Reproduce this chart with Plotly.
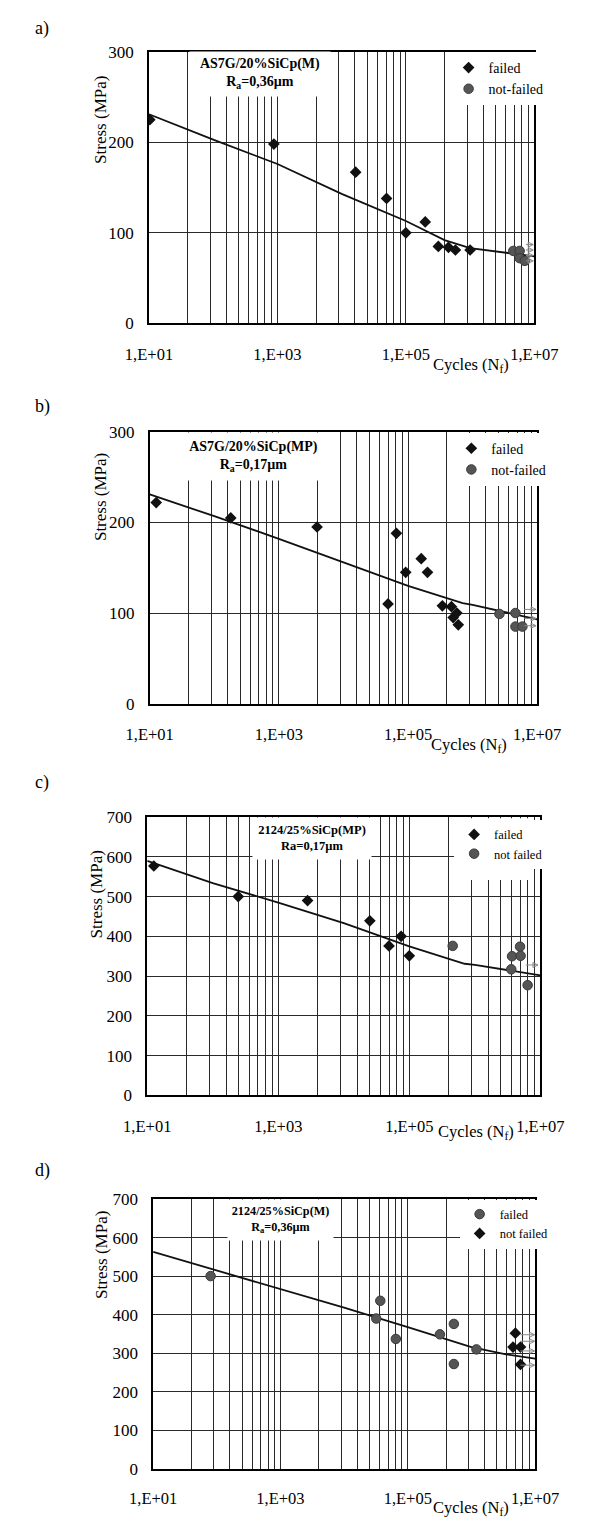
import numpy as np
import plotly.graph_objects as go

W, H = 593, 1527
SERIF = "Liberation Serif, Times New Roman, serif"
GRID = "#2a2a2a"

# ---------------- data ----------------
# a) AS7G/20%SiCp(M), Ra=0,36um
a_failed_N = [10.3, 880, 1.65e4, 5.0e4, 1.0e5, 2.0e5, 3.2e5, 4.6e5, 5.9e5, 1.0e6]
a_failed_S = [225, 198, 167, 138, 100, 112, 85, 84, 81, 81]
a_runout_N = [4.7e6, 5.9e6, 5.9e6, 7.1e6]
a_runout_S = [80, 80, 72, 69]
a_fit_N = [10, 100, 1e3, 1e4, 1e5, 4e5, 1e6, 1e7]
a_fit_S = [231, 203, 176, 143, 113, 92, 83, 74]
a_arrow_S = [87, 81, 75, 69]
a_arrow_from_N = [7.4e6, 7.4e6, 7.4e6, 7.4e6]
a_arrow_to_N = [9.6e6, 9.6e6, 9.6e6, 9.6e6]

# b) AS7G/20%SiCp(MP), Ra=0,17um
b_failed_N = [12.6, 180, 3.9e3, 4.9e4, 6.6e4, 9.2e4, 1.6e5, 2.0e5, 3.4e5, 4.7e5, 5.0e5, 5.7e5, 6.0e5]
b_failed_S = [222, 205, 195, 110, 188, 145, 160, 145, 108, 107, 95, 100, 87]
b_runout_N = [2.6e6, 4.6e6, 4.6e6, 5.9e6]
b_runout_S = [99, 100, 85, 85]
b_fit_N = [10, 100, 1e3, 1e4, 1e5, 7e5, 1e6, 1e7]
b_fit_S = [231, 207, 182, 156, 130, 111, 109, 93]
b_arrow_S = [104, 94, 86]
b_arrow_from_N = [6.3e6, 6.3e6, 6.3e6]
b_arrow_to_N = [9.6e6, 9.6e6, 9.6e6]

# c) 2124/25%SiCp(MP), Ra=0,17um
c_failed_N = [12.6, 245, 2.8e3, 2.5e4, 4.9e4, 7.5e4, 1.0e5]
c_failed_S = [577, 500, 490, 439, 376, 400, 351]
c_runout_N = [4.6e5, 3.7e6, 3.6e6, 4.9e6, 5.0e6, 6.4e6]
c_runout_S = [376, 350, 317, 374, 351, 277]
c_fit_N = [10, 100, 1e3, 1e4, 1e5, 7e5, 1e6, 1e7]
c_fit_S = [590, 534, 485, 433, 375, 331, 328, 302]
c_arrow_S = [328]
c_arrow_from_N = [6.0e6]
c_arrow_to_N = [9.2e6]

# d) 2124/25%SiCp(M), Ra=0,36um  (here circles = failed, diamonds = not failed)
d_failed_N = [80, 3.2e4, 3.7e4, 6.5e4, 3.2e5, 5.3e5, 5.3e5, 1.2e6]
d_failed_S = [500, 390, 436, 337, 349, 376, 272, 310]
d_runout_N = [4.9e6, 4.5e6, 5.9e6, 5.9e6]
d_runout_S = [352, 316, 316, 271]
d_fit_N = [10, 100, 1e3, 1e4, 1e5, 1e6, 3.5e6, 1e7]
d_fit_S = [563, 515, 467, 418, 368, 316, 297, 286]
d_arrow_S = [348, 331, 306, 269]
d_arrow_from_N = [5.9e6, 5.9e6, 5.9e6, 5.9e6]
d_arrow_to_N = [9.8e6, 9.8e6, 9.8e6, 9.8e6]

# axis ticks
MAJOR_N = [1e1, 1e3, 1e5, 1e7]
MAJOR_LBL = ["1,E+01", "1,E+03", "1,E+05", "1,E+07"]
MINOR_MULT = [4, 9, 16, 25, 36, 49, 64, 81]
MINOR_N = [m * k for m in MAJOR_N[:-1] for k in MINOR_MULT]


def fx(px):
    return px / W


def fy(py):
    return 1 - py / H


panels = [
    dict(key="a", s="", leg="legend",
         box=(136, 555.3, 43.3, 318.3), ymax=300, ystep=100,
         fN=a_failed_N, fS=a_failed_S, rN=a_runout_N, rS=a_runout_S,
         fitN=a_fit_N, fitS=a_fit_S,
         arS=a_arrow_S, ar0=a_arrow_from_N, ar1=a_arrow_to_N,
         names=("failed", "not-failed"), sym=("diamond", "circle"),
         title="<b>AS7G/20%SiCp(M)</b><br><b>R<sub>a</sub>=0,36µm</b>",
         tbox=(187, 327, 44.5, 88), tfont=14,
         legxy=(462, 43.5), legfont=14, legpad=None,
         label_y=20, ytitle=(83, 112), cyc=(486, 360), xlab_off=15),
    dict(key="b", s="2", leg="legend2",
         box=(136.8, 558.4, 428.3, 703.3), ymax=300, ystep=100,
         fN=b_failed_N, fS=b_failed_S, rN=b_runout_N, rS=b_runout_S,
         fitN=b_fit_N, fitS=b_fit_S,
         arS=b_arrow_S, ar0=b_arrow_from_N, ar1=b_arrow_to_N,
         names=("failed", "not-failed"), sym=("diamond", "circle"),
         title="<b>AS7G/20%SiCp(MP)</b><br><b>R<sub>a</sub>=0,17µm</b>",
         tbox=(182, 317, 429.5, 476), tfont=14,
         legxy=(465, 429), legfont=14, legpad=None,
         label_y=403, ytitle=(84, 494), cyc=(484, 745), xlab_off=15),
    dict(key="c", s="3", leg="legend3",
         box=(134.1, 561.8, 818.3, 1100), ymax=700, ystep=100,
         fN=c_failed_N, fS=c_failed_S, rN=c_runout_N, rS=c_runout_S,
         fitN=c_fit_N, fitS=c_fit_S,
         arS=c_arrow_S, ar0=c_arrow_from_N, ar1=c_arrow_to_N,
         names=("failed", "not failed"), sym=("diamond", "circle"),
         title="<b>2124/25%SiCp(MP)</b><br><b>Ra=0,17µm</b>",
         tbox=(254, 372, 819.5, 860), tfont=12.5,
         legxy=(468, 821), legfont=12.5, legpad=(478, 551.5, 819.5, 882),
         label_y=783, ytitle=(79, 897), cyc=(492, 1137), xlab_off=15),
    dict(key="d", s="4", leg="legend4",
         box=(140.5, 556.1, 1205, 1478.3), ymax=700, ystep=100,
         fN=d_failed_N, fS=d_failed_S, rN=d_runout_N, rS=d_runout_S,
         fitN=d_fit_N, fitS=d_fit_S,
         arS=d_arrow_S, ar0=d_arrow_from_N, ar1=d_arrow_to_N,
         names=("failed", "not failed"), sym=("circle", "diamond"),
         title="<b>2124/25%SiCp(M)</b><br><b>R<sub>a</sub>=0,36µm</b>",
         tbox=(227, 332, 1206.5, 1246), tfont=12.2,
         legxy=(474, 1205.5), legfont=12.5, legpad=(478, 554.5, 1206.5, 1247),
         label_y=1176, ytitle=(84.5, 1262), cyc=(486, 1518), xlab_off=13),
]

MARK = {
    "diamond": dict(symbol="diamond", size=9, color="#111111",
                    line=dict(width=0)),
    "circle": dict(symbol="circle", size=9.5, color="#555555",
                   line=dict(width=1, color="#3a3a3a")),
}

fig = go.Figure()
annotations = []
shapes = []
layout = {}

for p in panels:
    s = p["s"]
    xa, ya = "x" + s, "y" + s
    l, r, t, b = p["box"]
    layout["xaxis" + s] = dict(
        domain=[fx(l), fx(r)], anchor=ya, type="log", range=[1, 7],
        tickmode="array", tickvals=MAJOR_N, ticktext=MAJOR_LBL,
        showgrid=True, gridcolor=GRID, gridwidth=1,
        minor=dict(tickmode="array", tickvals=MINOR_N, showgrid=True,
                   gridcolor=GRID, gridwidth=1, ticks=""),
        showline=True, mirror=True, linecolor="black", linewidth=1.6,
        ticks="", zeroline=False, ticklabelstandoff=p["xlab_off"],
        tickfont=dict(family=SERIF, size=16.5, color="black"),
    )
    layout["yaxis" + s] = dict(
        domain=[fy(b), fy(t)], anchor=xa, range=[0, p["ymax"]],
        tickmode="array",
        tickvals=list(range(0, p["ymax"] + 1, p["ystep"])),
        showgrid=True, gridcolor=GRID, gridwidth=1,
        showline=True, mirror=True, linecolor="black", linewidth=1.6,
        ticks="", zeroline=False, ticklabelstandoff=10,
        tickfont=dict(family=SERIF, size=17, color="black"),
    )
    # fitted curve
    fig.add_trace(go.Scatter(x=p["fitN"], y=p["fitS"], mode="lines",
                             line=dict(color="#111111", width=1.8),
                             showlegend=False, hoverinfo="skip",
                             xaxis=xa, yaxis=ya))
    # failed
    fig.add_trace(go.Scatter(x=p["fN"], y=p["fS"], mode="markers",
                             marker=MARK[p["sym"][0]], name=p["names"][0],
                             legend=p["leg"], xaxis=xa, yaxis=ya))
    # not failed (run-outs)
    fig.add_trace(go.Scatter(x=p["rN"], y=p["rS"], mode="markers",
                             marker=MARK[p["sym"][1]], name=p["names"][1],
                             legend=p["leg"], xaxis=xa, yaxis=ya))
    # run-out arrows: shafts + heads
    sx, sy = [], []
    for S, n0, n1 in zip(p["arS"], p["ar0"], p["ar1"]):
        sx += [n0, n1, None]
        sy += [S, S, None]
    fig.add_trace(go.Scatter(x=sx, y=sy, mode="lines",
                             line=dict(color="#8a8a8a", width=1),
                             showlegend=False, hoverinfo="skip",
                             xaxis=xa, yaxis=ya))
    fig.add_trace(go.Scatter(x=p["ar1"], y=p["arS"], mode="markers",
                             marker=dict(symbol="arrow-right-open", size=5,
                                         color="#8a8a8a",
                                         line=dict(width=1, color="#8a8a8a")),
                             showlegend=False, hoverinfo="skip",
                             xaxis=xa, yaxis=ya))
    # legend
    lx, ly = p["legxy"]
    layout[p["leg"]] = dict(
        x=fx(lx), y=fy(ly), xanchor="left", yanchor="top",
        bgcolor="white", borderwidth=0, tracegroupgap=0, itemwidth=30,
        font=dict(family=SERIF, size=p["legfont"], color="black"))
    if p["legpad"]:
        x0, x1, y0, y1 = p["legpad"]
        shapes.append(dict(type="rect", xref="paper", yref="paper",
                           x0=fx(x0), x1=fx(x1), y0=fy(y1), y1=fy(y0),
                           fillcolor="white", line=dict(width=0),
                           layer="above"))
    # title box
    x0, x1, y0, y1 = p["tbox"]
    annotations.append(dict(
        x=fx((x0 + x1) / 2), y=fy((y0 + y1) / 2), xref="paper", yref="paper",
        xanchor="center", yanchor="middle", width=x1 - x0, height=y1 - y0,
        text=p["title"], showarrow=False, bgcolor="white", borderpad=0,
        align="center", valign="middle",
        font=dict(family=SERIF, size=p["tfont"], color="black")))
    # panel label
    annotations.append(dict(
        x=fx(10), y=fy(p["label_y"]), xref="paper", yref="paper",
        xanchor="left", yanchor="middle", text=p["key"] + ")",
        showarrow=False, font=dict(family=SERIF, size=18, color="black")))
    # y axis title
    tx, ty = p["ytitle"]
    annotations.append(dict(
        x=fx(tx), y=fy(ty), xref="paper", yref="paper", textangle=-90,
        xanchor="center", yanchor="middle", text="Stress (MPa)",
        showarrow=False, font=dict(family=SERIF, size=17, color="black")))
    # x axis title
    cx, cy = p["cyc"]
    annotations.append(dict(
        x=fx(cx), y=fy(cy), xref="paper", yref="paper",
        xanchor="center", yanchor="middle", text="Cycles (N<sub>f</sub>)",
        showarrow=False, font=dict(family=SERIF, size=16.5, color="black")))

fig.update_layout(
    width=W, height=H, autosize=False,
    margin=dict(l=0, r=0, t=0, b=0, pad=0),
    paper_bgcolor="white", plot_bgcolor="white",
    font=dict(family=SERIF, color="black"),
    annotations=annotations, shapes=shapes,
    **layout,
)

fig.write_html("out.html", config={"displayModeBar": False},
               post_script="document.body.style.margin='0';document.body.style.overflow='hidden';")
